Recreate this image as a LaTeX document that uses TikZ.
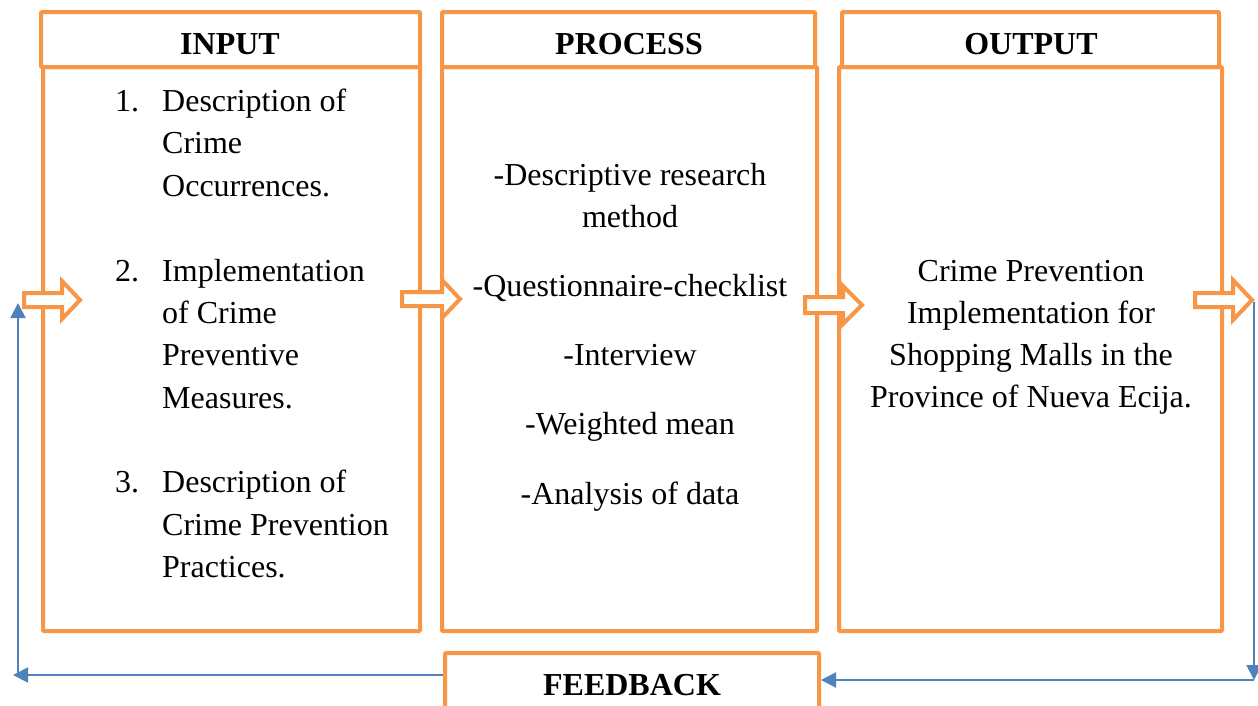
\documentclass[tikz,border=0pt]{standalone}
\usepackage{fontspec}
\setmainfont{Liberation Serif}
\usetikzlibrary{arrows.meta}
\definecolor{org}{HTML}{F79646}
\definecolor{blu}{HTML}{4F81BD}
\newcommand{\blockarr}[6]{\draw[barrow] (#1,{#4-#5}) -- (#2,{#4-#5}) -- (#2,{#4-#6}) -- (#3,#4) -- (#2,{#4+#6}) -- (#2,{#4+#5}) -- (#1,{#4+#5}) -- cycle;}
\begin{document}
\begin{tikzpicture}[x=1pt,y=-1pt,
  box/.style={draw=org, line width=4pt, rounded corners=1pt, inner sep=0pt, fill=white, rectangle},
  txt/.style={font=\fontsize{32}{42}\selectfont, inner sep=0pt, anchor=base},
  txtl/.style={txt, anchor=base west},
  hd/.style={txt, font=\fontsize{32}{42}\selectfont\bfseries},
  fb/.style={draw=blu, line width=2pt, -{Triangle[length=15pt,width=15pt]}},
  barrow/.style={draw=org, line width=4pt, fill=white, line join=miter}]
\clip (0,0) rectangle (1258,705);
% bodies
\node[box, minimum width=377pt, minimum height=564pt] (inB) at (231.5,349) {};
\node[box, minimum width=375pt, minimum height=564pt] (prB) at (629.5,349) {};
\node[box, minimum width=383pt, minimum height=564pt] (ouB) at (1030.5,349) {};
% headers
\node[box, minimum width=379pt, minimum height=55pt] (inH) at (230.5,39.5) {};
\node[box, minimum width=373pt, minimum height=55pt] (prH) at (628.5,39.5) {};
\node[box, minimum width=377pt, minimum height=55pt] (ouH) at (1030.5,39.5) {};
% feedback
\node[box, minimum width=374pt, minimum height=107pt] (fbk) at (632,706.5) {};
\node[hd] (inT) at (230,54) {INPUT};
\node[hd] (prT) at (629,54) {PROCESS};
\node[hd] (ouT) at (1031,54) {OUTPUT};
\node[hd] (fbT) at (632,695) {FEEDBACK};
% block arrows
\blockarr{24}{62}{80}{300}{7}{19}
\blockarr{402}{442}{460}{299}{7}{19}
\blockarr{805}{843}{862}{305}{8}{19}
\blockarr{1195}{1233}{1252}{300}{7}{20}
% input list
\node[txtl] (n1) at (115,111) {1.};
\node[txtl] (n2) at (115,281) {2.};
\node[txtl] (n3) at (115,492) {3.};
\foreach \t/\y [count=\i] in {Description of/111, Crime/153, Occurrences./196, Implementation/281, of Crime/323, Preventive/365, Measures./408, Description of/492, Crime Prevention/535, Practices./577}
  \node[txtl] (in\i) at (162,\y) {\t};
% process
\foreach \t/\y [count=\i] in {-Descriptive research/185, method/227, -Questionnaire-checklist/296, -Interview/365, -Weighted mean/434, -Analysis of data/504}
  \node[txt] (pr\i) at (630,\y) {\t};
% output
\foreach \t/\y [count=\i] in {Crime Prevention/281, Implementation for/323, Shopping Malls in the/365, Province of Nueva Ecija./407}
  \node[txt] (ou\i) at (1031,\y) {\t};
% feedback connectors
\coordinate (lt) at (13,675);
\coordinate (lc) at (18,675);
\coordinate (lu) at (18,303);
\coordinate (rt) at (1254,302);
\coordinate (rb) at (1254,680);
\draw[fb] (fbk.west |- lt) -- (lt);
\draw[fb] (lc) -- (lu);
\draw[fb] (rt) -- (rb);
\draw[fb] (rb) -- (fbk.east |- rb);
\end{tikzpicture}
\end{document}
